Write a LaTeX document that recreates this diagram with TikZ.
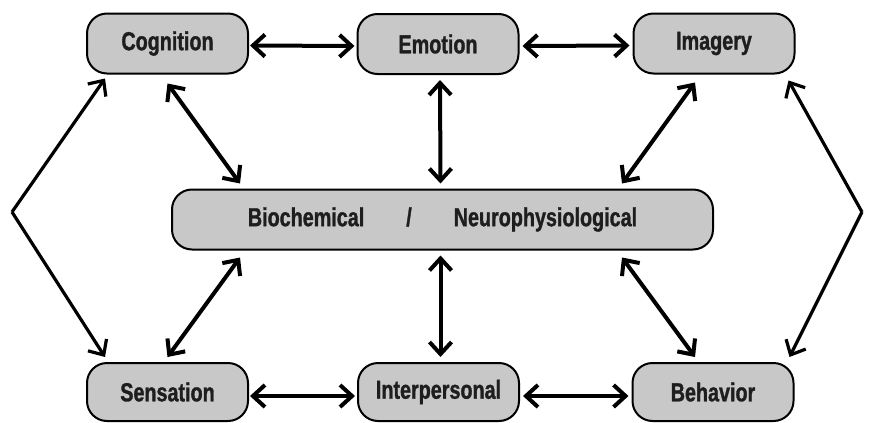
\documentclass[tikz,border=0pt]{standalone}
\usepackage{fontspec}
\setmainfont{Liberation Sans}[FakeStretch=0.76,FakeBold=1.2]
\usetikzlibrary{calc}
\usetikzlibrary{arrows.meta}
\usetikzlibrary{positioning}

\begin{document}
\begin{tikzpicture}[x=0.5pt, y=-0.5pt, every node/.style={inner sep=0,outer sep=0}]
        % Colors
        \definecolor{boxgray}{RGB}{200,200,200}
        \definecolor{textblack}{RGB}{30,30,30}
        \tikzset{
          box/.style={draw=black, line width=1pt, fill=boxgray, rounded corners=10pt,
            minimum width=80.5pt, minimum height=30pt, font=\bfseries\fontsize{13}{15}\selectfont, text=textblack},
          dbl/.style={line width=2pt, {Straight Barb[length=6pt,width=11pt]}-{Straight Barb[length=6pt,width=11pt]}},
          outer/.style={line width=1.6pt, -{Straight Barb[length=6pt,width=11pt]}}
        }
        \useasboundingbox (0,0) rectangle (873,423);

        % Top row
        \node[box] (cog) at (167.5,43.5) {Cognition};
        \node[box] (emo) at (438,44) {Emotion};
        \node[box] (ima) at (714,43.5) {Imagery};

        % Centre
        \node[box, minimum width=270.5pt] (bio) at (442.5,219.5)
          {Biochemical\hspace{21pt}/\hspace{21pt}Neurophysiological};

        % Bottom row
        \node[box, minimum height=29pt] (sen) at (167.5,392) {Sensation};
        \node[box, minimum height=29pt] (int) at (438.5,392) {Interpersonal};
        \node[box, minimum height=29pt] (beh) at (713,392) {Behavior};

        % Outer apexes
        \coordinate (lapex) at (12,212);
        \coordinate (rapex) at (862,212);

        % Horizontal links
        \draw[dbl] ($(cog.east)+(2,2)$) -- ($(emo.west)+(-3,2)$);
        \draw[dbl] ($(emo.east)+(4,2)$) -- ($(ima.west)+(-4,2)$);
        \draw[dbl] ($(sen.east)+(2,4)$) -- ($(int.west)+(-3,4)$);
        \draw[dbl] ($(int.east)+(4,4)$) -- ($(beh.west)+(-4,4)$);

        % Vertical links
        \draw[dbl] ($(emo.south)+(2,6)$) -- ($(bio.north)+(-2,-6)$);
        \draw[dbl] ($(bio.south)+(-2,6)$) -- ($(int.north)+(2,-6)$);

        % Diagonal links
        \draw[dbl] ($(cog.south)+(0,10)$) -- ($(bio.north west)+(68,-6)$);
        \draw[dbl] ($(ima.south)+(-19,9)$) -- ($(bio.north east)+(-91,-6)$);
        \draw[dbl] ($(sen.north)+(0,-6)$) -- ($(bio.south west)+(68,8)$);
        \draw[dbl] ($(beh.north)+(-18,-6)$) -- ($(bio.south east)+(-91,8)$);

        % Outer links
        \draw[outer] (lapex) -- ($(cog.south west)+(18,5)$);
        \draw[outer] (lapex) -- ($(sen.north west)+(18,-6)$);
        \draw[outer] (rapex) -- ($(ima.south east)+(-6,7)$);
        \draw[outer] (rapex) -- ($(beh.north east)+(-4,-6)$);
      \end{tikzpicture}
\end{document}
